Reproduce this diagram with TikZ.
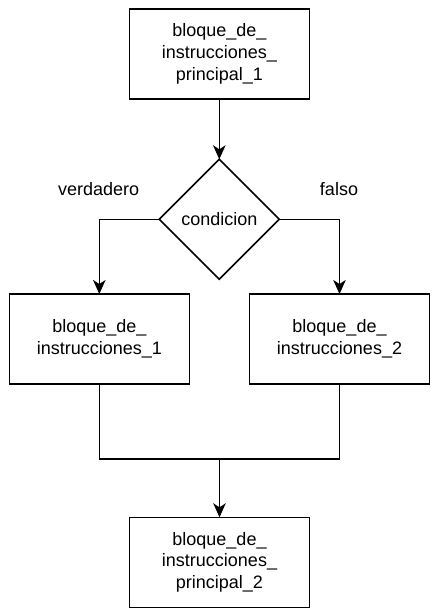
\documentclass[tikz,border=0pt]{standalone}
\usepackage{fontspec}
\setmainfont{Liberation Sans}
\usetikzlibrary{shapes.geometric,arrows.meta}
\begin{document}
\begin{tikzpicture}[x=1pt,y=-1pt,
  every node/.style={font=\fontsize{18}{21.6}\selectfont},
  blockbox/.style={draw=black,line width=1.6pt,minimum width=180pt,minimum height=90pt,inner sep=0pt,outer sep=0pt,align=center},
  decision/.style={draw=black,line width=1.6pt,diamond,minimum width=120pt,minimum height=120pt,inner sep=0pt,outer sep=0pt,align=center},
  conn/.style={line width=1.6pt,draw=black},
  arr/.style={conn,-{Stealth[length=14pt,width=12.5pt,inset=4pt]}},
  lbl/.style={inner sep=0pt}
]
\useasboundingbox (0,0) rectangle (439,615);
\node[blockbox] (top) at (219.3,53.8) {bloque\_de\_\\instrucciones\_\\principal\_1};
\node[decision] (cond) at (219.3,219.3) {condicion};
\node[blockbox] (b1) at (99.3,339) {bloque\_de\_\\instrucciones\_1};
\node[blockbox] (b2) at (339.5,339) {bloque\_de\_\\instrucciones\_2};
\node[blockbox] (bot) at (219.5,562.3) {bloque\_de\_\\instrucciones\_\\principal\_2};
\node[lbl] (vlab) at (98.7,189) {verdadero};
\node[lbl] (flab) at (339,189) {falso};
\coordinate (m) at (219.5,458.7);
\draw[arr] (top.south) -- (cond.north);
\draw[arr] (cond.west) -| (b1.north);
\draw[arr] (cond.east) -| (b2.north);
\draw[conn] (b1.south) |- (m) -| (b2.south);
\draw[arr] (m) -- (bot.north);
\end{tikzpicture}
\end{document}
